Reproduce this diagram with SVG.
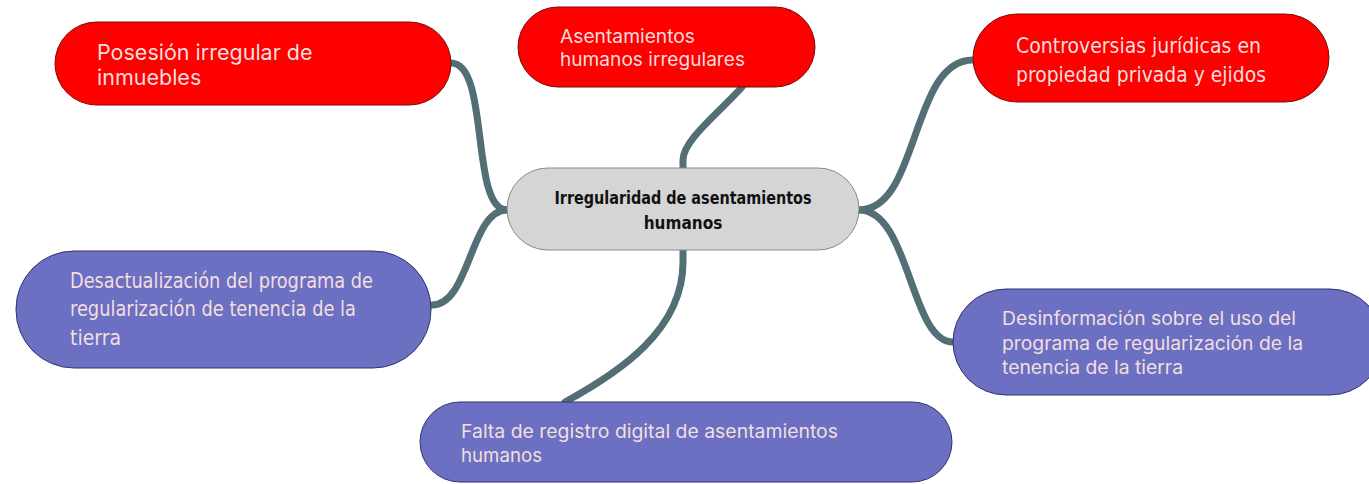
<svg xmlns="http://www.w3.org/2000/svg" width="1369" height="484" viewBox="0 0 1369 484">
<style>
.red{fill:#ff0000;stroke:#7a0a0a;stroke-width:1}
.blue{fill:#6b70c2;stroke:#30336b;stroke-width:1}
.center{fill:#d5d5d5;stroke:#8a8a8a;stroke-width:1}
.conn{fill:none;stroke:#546e75;stroke-width:7;stroke-linecap:round}
.t1{font-family:Inter,"Liberation Sans",sans-serif;fill:#f3dede}
.t2{font-family:"DejaVu Sans Condensed","Liberation Sans Narrow",Roboto,sans-serif;fill:#f3dede}
.tb{font-family:"DejaVu Sans Condensed","Liberation Sans Narrow",Roboto,sans-serif;fill:#111;font-weight:bold}
</style>
<rect width="1369" height="484" fill="#ffffff"/>
<g id="connectors">
<path class="conn" d="M451,63 C490,63 470,210 507,210"/>
<path class="conn" d="M507,210 C470,210 470,305 432,305"/>
<path class="conn" d="M683,168 L683,160 C683,140 720,112 742,87"/>
<path class="conn" d="M859,210 C920,210 910,60 973,60"/>
<path class="conn" d="M859,210 C910,210 910,342 953,342"/>
<path class="conn" d="M683,250 L683,262 C683,330 620,372 565,402"/>
</g>
<g id="n1">
<rect class="red" x="55" y="22" width="396" height="83" rx="41.5"/>
<text class="t1" font-size="21.5" x="97" y="60">Posesión irregular de</text>
<text class="t1" font-size="21.5" x="97" y="85">inmuebles</text>
</g>
<g id="n2">
<rect class="red" x="518" y="7" width="297" height="80" rx="40"/>
<text class="t1" font-size="18.5" x="560" y="43" textLength="135" lengthAdjust="spacingAndGlyphs">Asentamientos</text>
<text class="t1" font-size="18.5" x="560" y="66" textLength="185" lengthAdjust="spacingAndGlyphs">humanos irregulares</text>
</g>
<g id="n3">
<rect class="red" x="973" y="14" width="356" height="88" rx="44"/>
<text class="t2" font-size="22" x="1016" y="53" textLength="245" lengthAdjust="spacingAndGlyphs">Controversias jurídicas en</text>
<text class="t2" font-size="22" x="1016" y="82" textLength="250" lengthAdjust="spacingAndGlyphs">propiedad privada y ejidos</text>
</g>
<g id="center">
<rect class="center" x="507" y="168" width="352" height="82" rx="41"/>
<text class="tb" font-size="17" x="683" y="204" text-anchor="middle" textLength="257" lengthAdjust="spacingAndGlyphs">Irregularidad de asentamientos</text>
<text class="tb" font-size="17" x="683" y="229" text-anchor="middle">humanos</text>
</g>
<g id="n4">
<rect class="blue" x="16" y="251" width="415" height="117" rx="58"/>
<text class="t2" font-size="21" x="70" y="288" textLength="303" lengthAdjust="spacingAndGlyphs">Desactualización del programa de</text>
<text class="t2" font-size="21" x="70" y="316" textLength="286" lengthAdjust="spacingAndGlyphs">regularización de tenencia de la</text>
<text class="t2" font-size="21" x="70" y="345">tierra</text>
</g>
<g id="n5">
<rect class="blue" x="953" y="289" width="430" height="106" rx="53"/>
<text class="t1" font-size="18.5" x="1002" y="325" textLength="294" lengthAdjust="spacingAndGlyphs">Desinformación sobre el uso del</text>
<text class="t1" font-size="18.5" x="1002" y="350" textLength="301" lengthAdjust="spacingAndGlyphs">programa de regularización de la</text>
<text class="t1" font-size="18.5" x="1002" y="374" textLength="181" lengthAdjust="spacingAndGlyphs">tenencia de la tierra</text>
</g>
<g id="n6">
<rect class="blue" x="420" y="402" width="532" height="80" rx="40"/>
<text class="t1" font-size="18.5" x="461" y="438" textLength="377" lengthAdjust="spacingAndGlyphs">Falta de registro digital de asentamientos</text>
<text class="t1" font-size="18.5" x="461" y="462" textLength="81" lengthAdjust="spacingAndGlyphs">humanos</text>
</g>
</svg>
